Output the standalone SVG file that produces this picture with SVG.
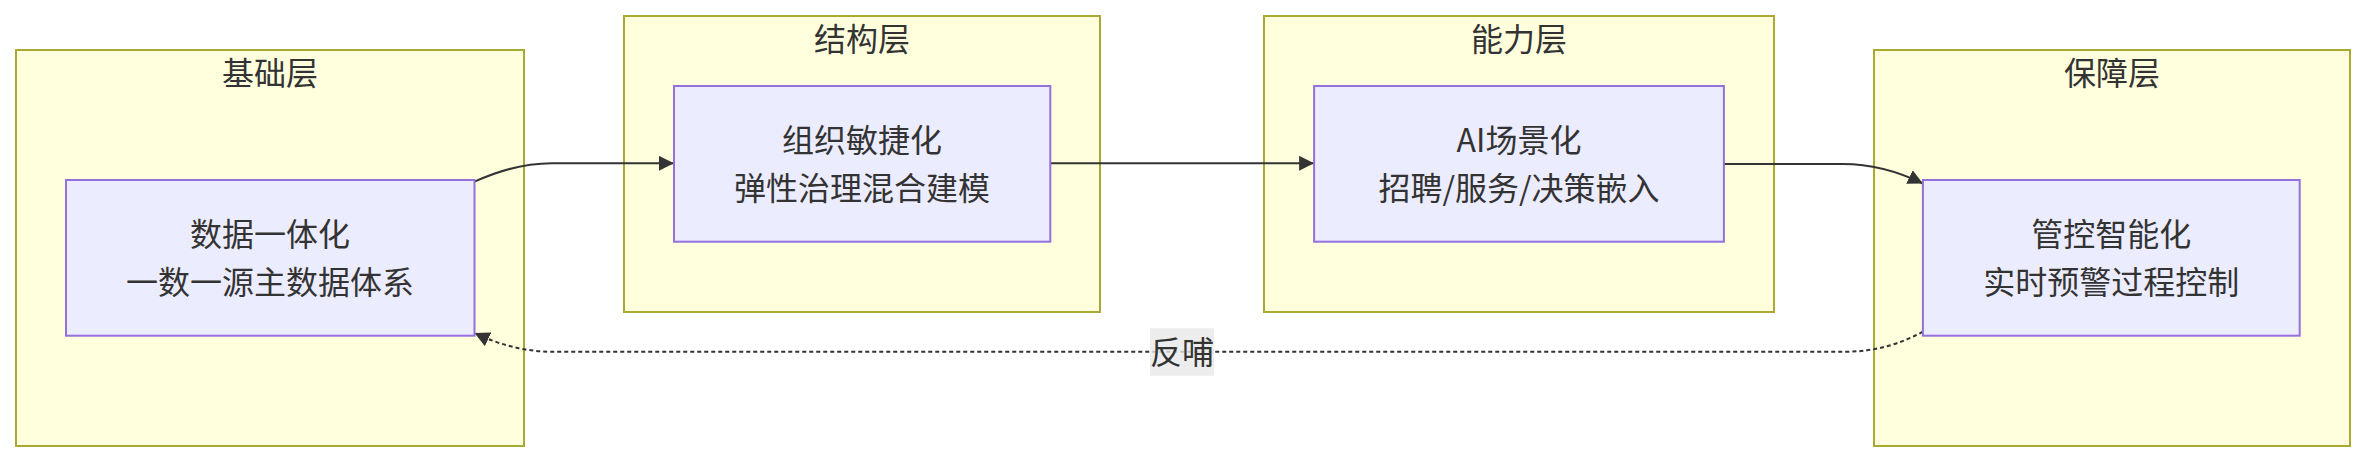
<svg xmlns="http://www.w3.org/2000/svg" width="2365" height="462" viewBox="0 0 2365 462">
<style>
.cluster rect{fill:#ffffde;stroke:#aaaa33;stroke-width:2px}
.node rect{fill:#ececff;stroke:#9370db;stroke-width:2px}
text{font-family:"Noto Sans CJK SC","Noto Sans",sans-serif;font-size:32px;fill:#333333;text-anchor:middle}
.edge{fill:none;stroke:#333333;stroke-width:2px}
.dotted{stroke-dasharray:4 3}
.lblbg{fill:rgba(232,232,232,0.8)}
</style>
<defs>
<marker id="arrow" viewBox="0 0 10 10" refX="10" refY="5" markerUnits="userSpaceOnUse" markerWidth="15" markerHeight="15" orient="auto">
<path d="M0,0 L10,5 L0,10 z" fill="#333333"/>
</marker>
</defs>
<g id="cluster-base" class="cluster">
<rect x="16" y="50" width="508" height="396"/>
<text x="270" y="85">基础层</text>
</g>
<g id="cluster-structure" class="cluster">
<rect x="624" y="16" width="476" height="296"/>
<text x="862" y="51">结构层</text>
</g>
<g id="cluster-capability" class="cluster">
<rect x="1264" y="16" width="510" height="296"/>
<text x="1519" y="51">能力层</text>
</g>
<g id="cluster-guarantee" class="cluster">
<rect x="1874" y="50" width="476" height="396"/>
<text x="2112" y="85">保障层</text>
</g>
<g id="connectors">
<path class="edge" d="M474.5,181.7 C500,170 525,163.3 552,163.3 L673.9,163.3" marker-end="url(#arrow)"/>
<path class="edge" d="M1050.3,163.3 L1314.1,163.3" marker-end="url(#arrow)"/>
<path class="edge" d="M1723.9,164 L1843,164 C1870,164 1895,170 1922.9,183.5" marker-end="url(#arrow)"/>
<path class="edge dotted" d="M1922.9,331.7 C1900,344 1875,351.7 1846,351.7 L552,351.7 C525,351.7 500,345 474.5,333" marker-end="url(#arrow)"/>
<g id="edge-label">
<rect class="lblbg" x="1150" y="328.3" width="64" height="47.4"/>
<text x="1182" y="364">反哺</text>
</g>
</g>
<g id="node-data" class="node">
<rect x="66" y="180" width="408.5" height="155.7"/>
<text x="270" y="246">数据一体化</text>
<text x="270" y="294">一数一源主数据体系</text>
</g>
<g id="node-org" class="node">
<rect x="674" y="86" width="376.3" height="155.7"/>
<text x="862" y="152">组织敏捷化</text>
<text x="862" y="200">弹性治理混合建模</text>
</g>
<g id="node-ai" class="node">
<rect x="1314.1" y="86" width="409.8" height="155.7"/>
<text x="1519" y="152">AI场景化</text>
<text x="1519" y="200">招聘/服务/决策嵌入</text>
</g>
<g id="node-control" class="node">
<rect x="1922.9" y="180" width="376.8" height="155.7"/>
<text x="2111.3" y="246">管控智能化</text>
<text x="2111.3" y="294">实时预警过程控制</text>
</g>
</svg>
